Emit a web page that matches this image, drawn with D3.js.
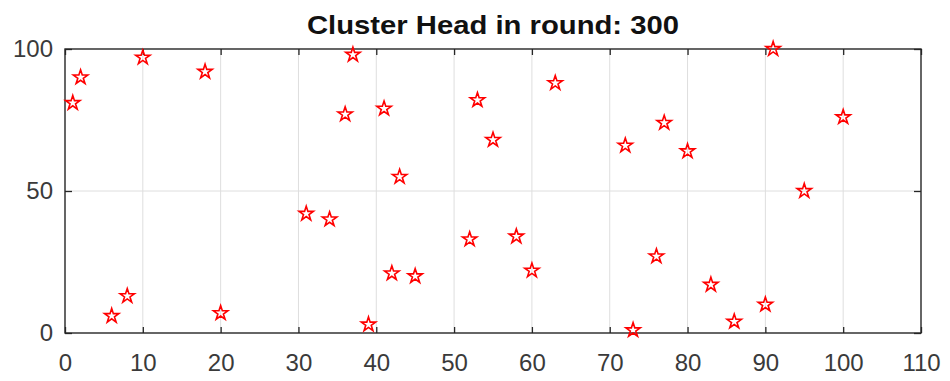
<!DOCTYPE html>
<html>
<head>
<meta charset="utf-8">
<script src="https://cdn.jsdelivr.net/npm/d3@7"></script>
<style>
    body { margin: 0; background: #fff; }
    svg text { font-family: "Liberation Sans", Arial, Helvetica, sans-serif; }
</style>
</head>
<body>
<div id="chart"></div>
<script>
// cluster head positions in round 300
const xValues = [1, 2, 10, 18, 6, 8, 20, 31, 34, 36, 37, 39, 41, 42, 43, 45, 52, 53, 55, 58, 60, 63, 72, 73, 76, 77, 80, 83, 86, 90, 91, 95, 100];
const yValues = [81, 90, 97, 92, 6, 13, 7, 42, 40, 77, 98, 3, 79, 21, 55, 20, 33, 82, 68, 34, 22, 88, 66, 1, 27, 74, 64, 17, 4, 10, 100, 50, 76];
const xTicks = [0, 10, 20, 30, 40, 50, 60, 70, 80, 90, 100, 110];
const yTicks = [0, 50, 100];
const titleText = "Cluster Head in round: 300";

const width = 950, height = 381;
const margin = { top: 49, right: 29, bottom: 48, left: 65 };
const plotW = width - margin.left - margin.right,
      plotH = height - margin.top - margin.bottom;

const svg = d3.select("#chart").append("svg")
    .attr("width", width)
    .attr("height", height);

const g = svg.append("g")
    .attr("transform", `translate(${margin.left},${margin.top})`);

const x = d3.scaleLinear().domain([0, 110]).range([0, plotW]);
const y = d3.scaleLinear().domain([0, 100]).range([plotH, 0]);

// grid
g.append("g").selectAll("line").data(xTicks.slice(1, -1)).join("line")
    .attr("x1", d => x(d)).attr("x2", d => x(d))
    .attr("y1", 0).attr("y2", plotH)
    .attr("stroke", "#dedede").attr("stroke-width", 1);
g.append("g").selectAll("line").data(yTicks.slice(1, -1)).join("line")
    .attr("x1", 0).attr("x2", plotW)
    .attr("y1", d => y(d)).attr("y2", d => y(d))
    .attr("stroke", "#dedede").attr("stroke-width", 1);

// axes (ticks inward, like matlab)
const axisColor = "#262626";
const styleAxis = sel => {
    sel.select(".domain").remove();
    sel.selectAll(".tick line").attr("stroke", axisColor).attr("stroke-width", 1.3);
    sel.selectAll(".tick text")
        .attr("fill", "#3a3a3a")
        .style("font-size", "24px");
};

g.append("g")
    .attr("transform", `translate(0,${plotH})`)
    .call(d3.axisBottom(x).tickValues(xTicks).tickSizeInner(-6).tickSizeOuter(0))
    .call(styleAxis)
    .call(a => a.selectAll(".tick text").attr("dy", "0.71em").attr("y", 21));

g.append("g")
    .call(d3.axisTop(x).tickValues(xTicks).tickSizeInner(-6).tickSizeOuter(0).tickFormat(""))
    .call(styleAxis);

g.append("g")
    .call(d3.axisLeft(y).tickValues(yTicks).tickSizeInner(-7).tickSizeOuter(0))
    .call(styleAxis)
    .call(a => a.selectAll(".tick text").attr("x", -12));

g.append("g")
    .attr("transform", `translate(${plotW},0)`)
    .call(d3.axisRight(y).tickValues(yTicks).tickSizeInner(-7).tickSizeOuter(0).tickFormat(""))
    .call(styleAxis);

g.append("rect")
    .attr("width", plotW).attr("height", plotH)
    .attr("fill", "none")
    .attr("stroke", axisColor).attr("stroke-width", 1.4);

// stars
const star = d3.symbol().type(d3.symbolStar).size(64);
g.append("g").selectAll("path").data(xValues).join("path")
    .attr("transform", (d, i) => `translate(${x(d)},${y(yValues[i])})`)
    .attr("d", star)
    .attr("fill", "none")
    .attr("stroke", "#ff0000")
    .attr("stroke-width", 1.6)
    .attr("stroke-linejoin", "miter");

// title
svg.append("text")
    .attr("x", margin.left + plotW / 2)
    .attr("y", 34)
    .attr("text-anchor", "middle")
    .attr("fill", "#111")
    .attr("textLength", 372)
    .attr("lengthAdjust", "spacingAndGlyphs")
    .style("font-size", "25px")
    .style("font-weight", "bold")
    .text(titleText);
</script>
</body>
</html>
